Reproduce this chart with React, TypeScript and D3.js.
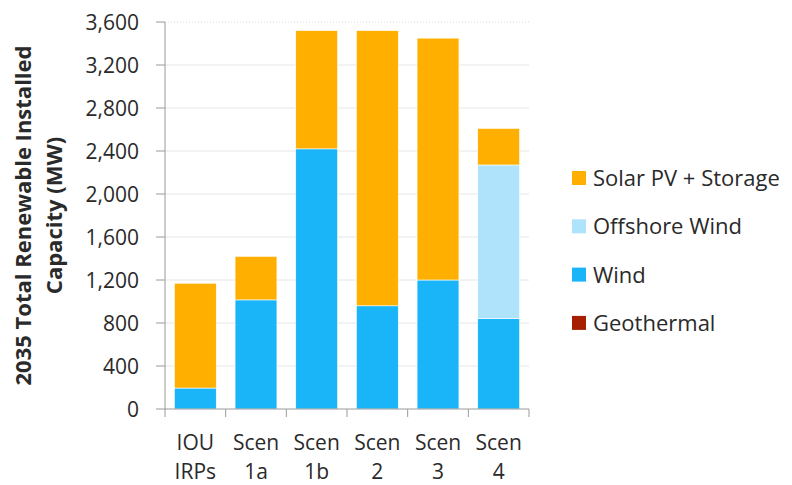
import React from "react";
import * as d3 from "d3";

const categories = [["IOU", "IRPs"], ["Scen", "1a"], ["Scen", "1b"], ["Scen", "2"], ["Scen", "3"], ["Scen", "4"]];
const geothermal = [0, 0, 0, 0, 0, 0];
const wind = [195, 1015, 2420, 960, 1200, 840];
const offshoreWind = [0, 0, 0, 0, 0, 1430];
const solarStorage = [975, 405, 1100, 2560, 2250, 340];
const yTicks = [0, 400, 800, 1200, 1600, 2000, 2400, 2800, 3200, 3600];

const seriesNames = ["Geothermal", "Wind", "Offshore Wind", "Solar PV + Storage"];
const seriesColors = ["#A51F00", "#19B5F8", "#AEE3FB", "#FFAF00"];

export default function App() {
  const W = 792, H = 485;
  const x0 = 165, x1 = 529, yTop = 22, yBot = 409;
  const keys = categories.map((c) => c.join(" "));
  const x = d3.scaleBand().domain(keys).range([x0, x1]).paddingInner(0.31).paddingOuter(0.155);
  const xb = d3.scaleBand().domain(keys).range([x0, x1]);
  const y = d3.scaleLinear().domain([0, 3600]).range([yBot, yTop]);
  const rows = keys.map((k, i) => ({ key: k, g: geothermal[i], w: wind[i], o: offshoreWind[i], s: solarStorage[i] }));
  const stack = d3.stack<any>().keys(["g", "w", "o", "s"])(rows);
  const font = "'Open Sans', sans-serif";
  const fmt = d3.format(",");
  const legendOrder = [3, 2, 1, 0];
  return (
    <svg width={W} height={H} style={{ position: "absolute", left: 0, top: 0, background: "#fff" }} fontFamily={font}>
      {yTicks.map((t) => (
        <g key={t}>
          {t > 0 && (
            <line x1={x0} x2={x1} y1={y(t)} y2={y(t)} stroke={t === 3600 ? "#d8d8d8" : "#e6e6e6"} strokeWidth={1}
              strokeDasharray={t === 3600 ? "1,2" : undefined} />
          )}
          <line x1={x0 - 9} x2={x0} y1={y(t)} y2={y(t)} stroke="#9a9a9a" />
          <text x={x0 - 26} y={y(t)} dy="0.36em" textAnchor="end" fontSize={21} fill="#2a2a2a">{fmt(t)}</text>
        </g>
      ))}
      {stack.map((layer, li) =>
        layer.map((d, i) =>
          d[1] - d[0] > 0 ? (
            <rect key={li + "-" + i} x={x(keys[i])} width={x.bandwidth()} y={y(d[1])} height={y(d[0]) - y(d[1])}
              fill={seriesColors[li]} stroke="#fff" strokeWidth={0.6} />
          ) : null
        )
      )}
      <line x1={x0} x2={x0} y1={yTop} y2={yBot} stroke="#9a9a9a" />
      <line x1={x0} x2={x1} y1={yBot} y2={yBot} stroke="#9a9a9a" />
      {[...keys.map((k) => xb(k) as number), x1].map((v, i) => (
        <line key={i} x1={v} x2={v} y1={yBot} y2={yBot + 8} stroke="#9a9a9a" />
      ))}
      {categories.map((c, i) => (
        <text key={i} x={(xb(keys[i]) as number) + xb.bandwidth() / 2} textAnchor="middle" fontSize={21} fill="#2a2a2a">
          <tspan x={(xb(keys[i]) as number) + xb.bandwidth() / 2} y={450}>{c[0]}</tspan>
          <tspan x={(xb(keys[i]) as number) + xb.bandwidth() / 2} y={479}>{c[1]}</tspan>
        </text>
      ))}
      <text transform={`translate(46,${(yTop + yBot) / 2}) rotate(-90)`} textAnchor="middle" fontSize={22} fontWeight="bold" fill="#2a2a2a">
        <tspan x={0} y={-15}>2035 Total Renewable Installed</tspan>
        <tspan x={0} y={16}>Capacity (MW)</tspan>
      </text>
      {legendOrder.map((si, j) => (
        <g key={si} transform={`translate(572,${178 + j * 48.3})`}>
          <rect x={0} y={-7} width={14} height={14} fill={seriesColors[si]} />
          <text x={21} y={0} dy="0.36em" fontSize={22} fill="#2a2a2a">{seriesNames[si]}</text>
        </g>
      ))}
    </svg>
  );
}
